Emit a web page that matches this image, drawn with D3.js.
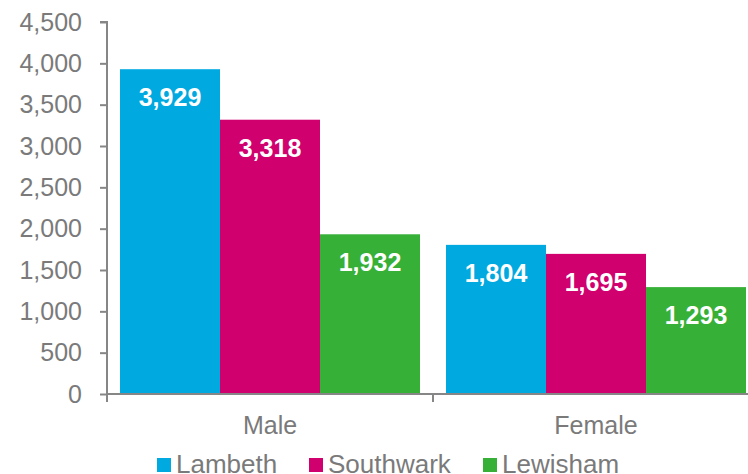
<!DOCTYPE html>
<html>
<head>
<meta charset="utf-8">
<script src="https://cdn.jsdelivr.net/npm/d3@7"></script>
<style>
  body { margin: 0; background: #fff; }
  svg { display: block; font-family: "Liberation Sans", Arial, sans-serif; }
</style>
</head>
<body>
<div id="chart-area"></div>
<script>
var categories = ["Male", "Female"]
var series = ["Lambeth", "Southwark", "Lewisham"]
var lambeth = [3929, 1804]
var southwark = [3318, 1695]
var lewisham = [1932, 1293]
var yTicks = [0, 500, 1000, 1500, 2000, 2500, 3000, 3500, 4000, 4500]
var colors = ["#00a9e0", "#d0006f", "#36b037"]

var values = [lambeth, southwark, lewisham]

var W = 748, H = 474
var margin = { top: 22, left: 107 }
var plotBottom = 394
var plotRight = 759  // plot runs slightly past the edge of the picture

var svg = d3.select("#chart-area")
  .append("svg")
  .attr("width", W)
  .attr("height", H)

var x = d3.scaleBand()
  .domain(categories)
  .range([margin.left, plotRight])

var xInner = d3.scaleBand()
  .domain(series)
  .range([0, x.bandwidth()])
  .paddingOuter(0.13)

var y = d3.scaleLinear()
  .domain([0, 4500])
  .range([plotBottom, margin.top])

var axisColor = "#868686"
var textColor = "#7a7a7a"

// bars
var groups = svg.selectAll("g.cat")
  .data(categories)
  .enter()
  .append("g")
  .attr("class", "cat")
  .attr("transform", d => "translate(" + x(d) + ",0)")

groups.each(function(cat, ci) {
  var g = d3.select(this)
  series.forEach(function(s, si) {
    var v = values[si][ci]
    g.append("rect")
      .attr("x", xInner(s))
      .attr("y", y(v))
      .attr("width", xInner.bandwidth())
      .attr("height", plotBottom - y(v))
      .attr("fill", colors[si])

    g.append("text")
      .text(d3.format(",")(v))
      .attr("x", xInner(s) + xInner.bandwidth() / 2)
      .attr("y", y(v) + 37)
      .attr("text-anchor", "middle")
      .attr("font-size", "25px")
      .attr("font-weight", "bold")
      .attr("fill", "#fff")
  })
})

// y axis
var yAxisCall = d3.axisLeft(y)
  .tickValues(yTicks)
  .tickFormat(d3.format(","))
  .tickSize(7)
  .tickPadding(18)

var yAxis = svg.append("g")
  .attr("class", "y axis")
  .attr("transform", "translate(" + margin.left + ",0)")
  .call(yAxisCall)

yAxis.select(".domain")
  .attr("d", "M-7," + y(4500) + "H0V" + plotBottom)
yAxis.selectAll("line, path").attr("stroke", axisColor).attr("stroke-width", 2)
yAxis.selectAll("text")
  .attr("font-size", "25px")
  .attr("fill", textColor)
  .attr("font-family", "Liberation Sans, Arial, sans-serif")

// x axis
svg.append("line")
  .attr("x1", margin.left)
  .attr("x2", plotRight)
  .attr("y1", plotBottom)
  .attr("y2", plotBottom)
  .attr("stroke", axisColor)
  .attr("stroke-width", 2)

svg.selectAll("line.xtick")
  .data(categories.concat(["end"]))
  .enter()
  .append("line")
  .attr("class", "xtick")
  .attr("x1", (d, i) => i < categories.length ? x(d) : plotRight)
  .attr("x2", (d, i) => i < categories.length ? x(d) : plotRight)
  .attr("y1", plotBottom)
  .attr("y2", plotBottom + 8)
  .attr("stroke", axisColor)
  .attr("stroke-width", 2)

svg.selectAll("text.xlabel")
  .data(categories)
  .enter()
  .append("text")
  .attr("class", "xlabel")
  .text(d => d)
  .attr("x", d => x(d) + x.bandwidth() / 2)
  .attr("y", 434)
  .attr("text-anchor", "middle")
  .attr("font-size", "25px")
  .attr("fill", textColor)

// legend
var legendX = [157, 309, 483]
var legend = svg.selectAll("g.legend")
  .data(series)
  .enter()
  .append("g")
  .attr("class", "legend")
  .attr("transform", (d, i) => "translate(" + legendX[i] + ",458)")

legend.append("rect")
  .attr("width", 14)
  .attr("height", 14)
  .attr("fill", (d, i) => colors[i])

legend.append("text")
  .text(d => d)
  .attr("x", 19)
  .attr("y", 15)
  .attr("font-size", "26px")
  .attr("fill", textColor)
</script>
</body>
</html>
